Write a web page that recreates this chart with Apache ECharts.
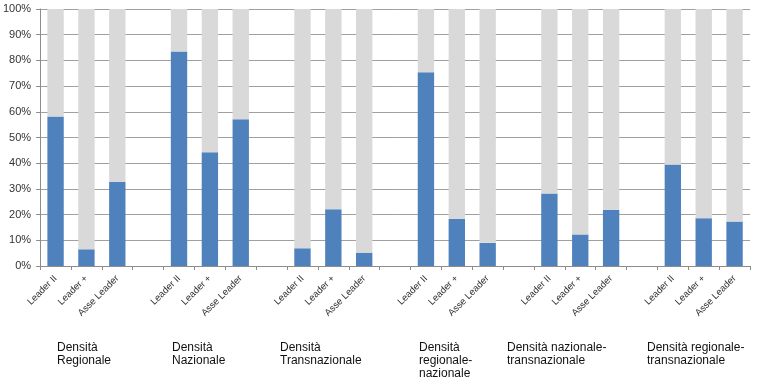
<!DOCTYPE html>
<html>
<head>
<meta charset="utf-8">
<script src="https://cdn.jsdelivr.net/npm/echarts@6/dist/echarts.min.js"></script>
<style>html,body{margin:0;padding:0;background:#fff}#c{width:758px;height:390px}</style>
</head>
<body>
<div id="c"></div>
<script>
var categories = ['Leader II','Leader +','Asse Leader','',
                  'Leader II','Leader +','Asse Leader','',
                  'Leader II','Leader +','Asse Leader','',
                  'Leader II','Leader +','Asse Leader','',
                  'Leader II','Leader +','Asse Leader','',
                  'Leader II','Leader +','Asse Leader'];
var blueValues = [58.2, 6.5, 32.7, '-', 83.5, 44.3, 57.1, '-', 6.9, 22.1, 5.2, '-',
                  75.4, 18.3, 9.0, '-', 28.2, 12.3, 21.9, '-', 39.5, 18.6, 17.3];
var grayValues = [41.8, 93.5, 67.3, '-', 16.5, 55.7, 42.9, '-', 93.1, 77.9, 94.8, '-',
                  24.6, 81.7, 91.0, '-', 71.8, 87.7, 78.1, '-', 60.5, 81.4, 82.7];
var groupLabels = ['Densità\nRegionale', 'Densità\nNazionale', 'Densità\nTransnazionale',
                   'Densità\nregionale-\nnazionale', 'Densità nazionale-\ntransnazionale',
                   'Densità regionale-\ntransnazionale'];
var groupLabelLeft = [57, 172, 280, 419, 507, 647];

var chart = echarts.init(document.getElementById('c'), null, {renderer: 'canvas'});
var font = 'Liberation Sans, Arial, sans-serif';
chart.setOption({
  animation: false,
  backgroundColor: '#fff',
  grid: {left: 39, right: 8, top: 9, bottom: 124, containLabel: false},
  xAxis: {
    type: 'category',
    data: categories,
    axisLine: {lineStyle: {color: '#8c8c8c', width: 1}},
    axisTick: {show: true, length: 4, lineStyle: {color: '#8c8c8c'}},
    axisLabel: {interval: 0, rotate: 45, fontSize: 9.5, color: '#333', fontFamily: font, margin: 11}
  },
  yAxis: {
    type: 'value',
    min: 0, max: 100, interval: 10,
    axisLine: {show: true, lineStyle: {color: '#8c8c8c', width: 1}},
    axisTick: {show: true, length: 4, lineStyle: {color: '#8c8c8c'}},
    axisLabel: {formatter: '{value}%', fontSize: 11, color: '#333', fontFamily: font, margin: 9},
    splitLine: {show: true, lineStyle: {color: '#a0a0a0', width: 1}}
  },
  series: [
    {type: 'bar', stack: 'a', data: blueValues, barWidth: '53%',
     itemStyle: {color: '#4f81bd'}},
    {type: 'bar', stack: 'a', data: grayValues, barWidth: '53%',
     itemStyle: {color: '#d9d9d9'}}
  ],
  graphic: groupLabels.map(function (t, i) {
    return {type: 'text', left: groupLabelLeft[i], top: 341,
      style: {text: t, font: '12px ' + font, fill: '#111', lineHeight: 13}};
  })
});
</script>
</body>
</html>
